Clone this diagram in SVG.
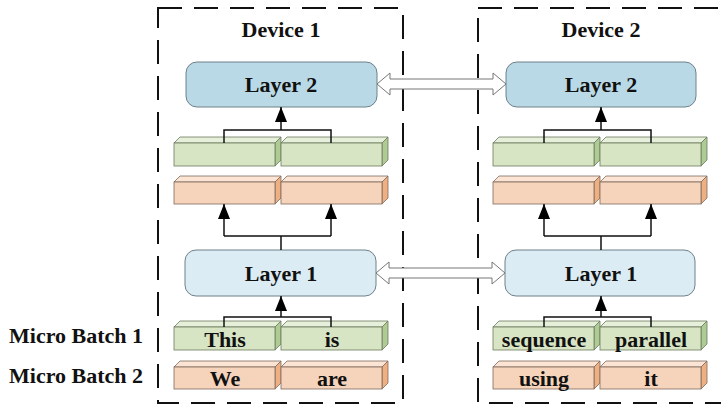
<svg xmlns="http://www.w3.org/2000/svg" width="721" height="405" viewBox="0 0 721 405">
<style>
.dev{fill:none;stroke:#111;stroke-width:2;stroke-dasharray:24 12}
.t{font-family:"Liberation Serif","Times New Roman",serif;font-weight:bold;font-size:22px;fill:#111}
.mid{text-anchor:middle}
.l2{fill:#BAD9E6;stroke:#6E8088;stroke-width:1}
.l1{fill:#DCECF4;stroke:#6E8088;stroke-width:1}
.gf{fill:#D7E5C4;stroke:#6C7A5E;stroke-width:0.8}
.gt{fill:#E6EFDA;stroke:#6C7A5E;stroke-width:0.8}
.gs{fill:#AECB93;stroke:#6C7A5E;stroke-width:0.8}
.of{fill:#F6D4BB;stroke:#7F6A5C;stroke-width:0.8}
.ot{fill:#FBE4D4;stroke:#7F6A5C;stroke-width:0.8}
.os{fill:#EEB083;stroke:#7F6A5C;stroke-width:0.8}
.c{fill:none;stroke:#111;stroke-width:1.5}
.dbl{fill:#fff;stroke:#777;stroke-width:1}
</style>
<defs>
<marker id="ah" viewBox="0 0 15 12" refX="15" refY="6" markerWidth="15" markerHeight="12" markerUnits="userSpaceOnUse" orient="auto">
<path d="M0,0 L15,6 L0,12 z" fill="#000"/>
</marker>
<g id="gbox">
<polygon class="gt" points="0,0 6,-6 107,-6 101,0"/>
<polygon class="gs" points="101,0 107,-6 107,17 101,23"/>
<rect class="gf" x="0" y="0" width="101" height="23"/>
</g>
<g id="obox">
<polygon class="ot" points="0,0 6,-6 107,-6 101,0"/>
<polygon class="os" points="101,0 107,-6 107,16 101,22"/>
<rect class="of" x="0" y="0" width="101" height="22"/>
</g>
</defs>
<rect width="721" height="405" fill="#fff"/>

<g id="device1">
<rect class="dev" x="158" y="8" width="245" height="395"/>
<text class="t mid" x="281" y="37">Device 1</text>
</g>
<g id="device2">
<rect class="dev" x="478" y="8" width="270" height="395"/>
<text class="t mid" x="601" y="37">Device 2</text>
</g>

<g id="labels">
<text class="t" x="9" y="343">Micro Batch 1</text>
<text class="t" x="9" y="383">Micro Batch 2</text>
</g>

<g id="d1-layer2"><rect class="l2" x="186" y="62" width="191" height="45" rx="11"/><text class="t mid" x="281" y="92">Layer 2</text></g>
<g id="d1-layer1"><rect class="l1" x="185" y="250" width="191" height="46" rx="11"/><text class="t mid" x="281" y="281">Layer 1</text></g>
<g id="d1-green-hidden"><use href="#gbox" x="174" y="143"/><use href="#gbox" x="281" y="143"/></g>
<g id="d1-orange-hidden"><use href="#obox" x="174" y="182"/><use href="#obox" x="281" y="182"/></g>
<g id="d1-batch1"><use href="#gbox" x="174" y="327"/><use href="#gbox" x="281" y="327"/>
<text class="t mid" x="225" y="347">This</text><text class="t mid" x="332" y="347">is</text></g>
<g id="d1-batch2"><use href="#obox" x="174" y="367"/><use href="#obox" x="281" y="367"/>
<text class="t mid" x="225" y="386">We</text><text class="t mid" x="332" y="386">are</text></g>

<g id="d2-layer2"><rect class="l2" x="506" y="62" width="190" height="45" rx="11"/><text class="t mid" x="601" y="92">Layer 2</text></g>
<g id="d2-layer1"><rect class="l1" x="505" y="250" width="190" height="46" rx="11"/><text class="t mid" x="601" y="281">Layer 1</text></g>
<g id="d2-green-hidden"><use href="#gbox" x="493" y="143"/><use href="#gbox" x="600" y="143"/></g>
<g id="d2-orange-hidden"><use href="#obox" x="493" y="182"/><use href="#obox" x="600" y="182"/></g>
<g id="d2-batch1"><use href="#gbox" x="493" y="327"/><use href="#gbox" x="600" y="327"/>
<text class="t mid" x="544" y="347">sequence</text><text class="t mid" x="651" y="347">parallel</text></g>
<g id="d2-batch2"><use href="#obox" x="493" y="367"/><use href="#obox" x="600" y="367"/>
<text class="t mid" x="544" y="386">using</text><text class="t mid" x="651" y="386">it</text></g>

<g id="connectors">
<path class="c" d="M224,143 V130 H331 V143"/>
<path class="c" d="M281,130 V107" marker-end="url(#ah)"/>
<path class="c" d="M281,250 V236 M224,236 H331"/>
<path class="c" d="M224,236 V204" marker-end="url(#ah)"/>
<path class="c" d="M331,236 V204" marker-end="url(#ah)"/>
<path class="c" d="M224,327 V317 H331 V327"/>
<path class="c" d="M281,317 V296" marker-end="url(#ah)"/>

<path class="c" d="M544,143 V130 H651 V143"/>
<path class="c" d="M601,130 V107" marker-end="url(#ah)"/>
<path class="c" d="M601,250 V236 M544,236 H651"/>
<path class="c" d="M544,236 V204" marker-end="url(#ah)"/>
<path class="c" d="M651,236 V204" marker-end="url(#ah)"/>
<path class="c" d="M544,327 V317 H651 V327"/>
<path class="c" d="M601,317 V296" marker-end="url(#ah)"/>

<polygon class="dbl" points="377,84 390,73 390,79 493,79 493,73 506,84 493,95 493,89 390,89 390,95"/>
<polygon class="dbl" points="376,273 389,262 389,268 492,268 492,262 505,273 492,284 492,278 389,278 389,284"/>
</g>
</svg>
